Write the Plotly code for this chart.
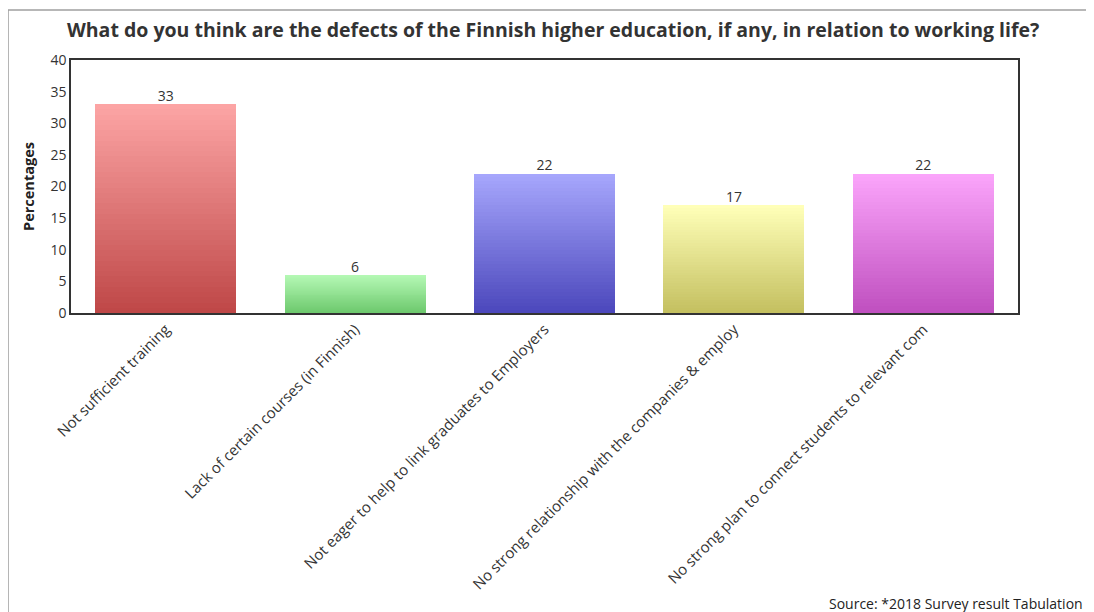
import plotly.graph_objects as go

categories = [
    "Not sufficient training",
    "Lack of certain courses (in Finnish)",
    "Not eager to help to link graduates to Employers",
    "No strong relationship with the companies & employ",
    "No strong plan to connect students to relevant com",
]
values = [33, 6, 22, 17, 22]
top_colors = ["#FCA4A4", "#B4F8B4", "#A6A6FC", "#FFFFB8", "#FAA4FA"]
bottom_colors = ["#BF4848", "#6CC86C", "#4C48BC", "#C4C060", "#C050C0"]

title = "What do you think are the defects of the Finnish higher education, if any, in relation to working life?"
y_title = "Percentages"
source = "Source: *2018 Survey result Tabulation"

N = 40


def hex2rgb(h):
    h = h.lstrip("#")
    return [int(h[i:i + 2], 16) for i in (0, 2, 4)]


def mix(c1, c2, t):
    a, b = hex2rgb(c1), hex2rgb(c2)
    return "rgb(%d,%d,%d)" % tuple(round(a[k] + (b[k] - a[k]) * t) for k in range(3))


fig = go.Figure()
for s in range(N):
    t = s / (N - 1)  # 0 = bottom, 1 = top
    fig.add_trace(go.Bar(
        x=categories,
        y=[v / N for v in values],
        marker=dict(color=[mix(bottom_colors[i], top_colors[i], t) for i in range(len(values))],
                    line=dict(width=0)),
        showlegend=False,
        hoverinfo="skip",
    ))

fig.add_trace(go.Scatter(
    x=categories, y=values, mode="text",
    text=[str(v) for v in values], textposition="top center",
    textfont=dict(family="Open Sans", size=14, color="#333333"),
    showlegend=False, hoverinfo="skip",
))

fig.update_layout(
    width=1086, height=604,
    barmode="stack", bargap=0.255,
    margin=dict(l=63, r=76, t=52, b=299),
    paper_bgcolor="white", plot_bgcolor="white",
    font=dict(family="Open Sans", color="#333333"),
    title=dict(text="<b>" + title + "</b>", x=0.502, xanchor="center", y=0.9636, yanchor="middle",
               font=dict(family="Open Sans", size=19.5, color="#333333")),
    xaxis=dict(
        tickangle=-45, tickfont=dict(family="Open Sans", size=15, color="#333333"),
        showline=True, linecolor="#333333", linewidth=1.5, mirror=True,
        ticks="", showgrid=False,
    ),
    yaxis=dict(
        range=[0, 40], dtick=5, tickfont=dict(family="Open Sans", size=14, color="#333333"),
        showline=True, linecolor="#333333", linewidth=1.5, mirror=True,
        showgrid=False, zeroline=False, ticks="",
        title=dict(text="<b>" + y_title + "</b>", font=dict(family="Open Sans", size=14.5, color="#222222"),
                   standoff=12),
    ),
    shapes=[dict(type="path", xref="paper", yref="paper",
                 path="M -0.0665 -1.3 L -0.0665 1.1976 L 1.2 1.1976",
                 line=dict(color="#A0A0A0", width=1.5))],
    annotations=[dict(text=source, xref="paper", yref="paper", x=1.0707, y=-1.150,
                      xanchor="right", yanchor="middle", showarrow=False,
                      font=dict(family="Open Sans", size=14, color="#222222"))],
)

fig.write_html("out.html")
